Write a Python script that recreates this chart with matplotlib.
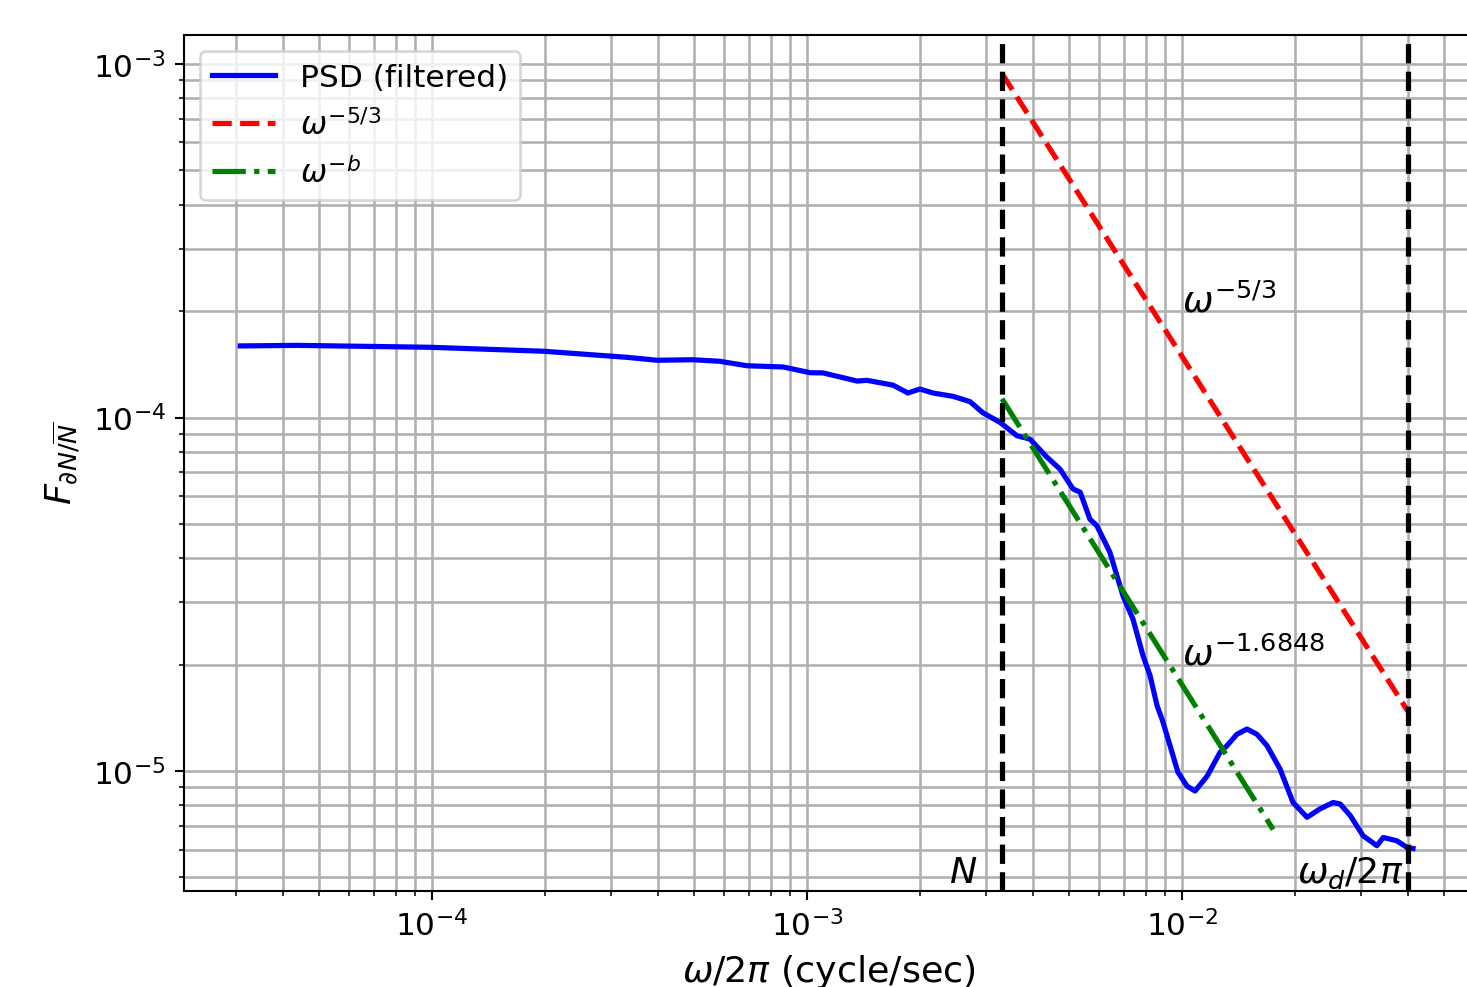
import numpy as np
import matplotlib
matplotlib.use("Agg")
import matplotlib.pyplot as plt

# PSD of dN/N (filtered)
freq = [3.08e-5, 4.36e-5, 9.9e-5, 1.98e-4, 3.31e-4, 3.98e-4, 4.97e-4, 5.86e-4,
        6.92e-4, 8.63e-4, 1.019e-3, 1.104e-3, 1.36e-3, 1.445e-3, 1.695e-3,
        1.858e-3, 2.0e-3, 2.168e-3, 2.45e-3, 2.72e-3, 2.945e-3, 3.27e-3,
        3.63e-3, 3.93e-3, 4.36e-3, 4.73e-3, 5.12e-3, 5.35e-3, 5.68e-3,
        5.93e-3, 6.42e-3, 6.96e-3, 7.40e-3, 7.87e-3, 8.22e-3, 8.58e-3,
        8.85e-3, 9.29e-3, 9.75e-3, 1.031e-2, 1.083e-2, 1.167e-2, 1.263e-2,
        1.318e-2, 1.40e-2, 1.49e-2, 1.585e-2, 1.685e-2, 1.825e-2, 1.977e-2,
        2.155e-2, 2.33e-2, 2.53e-2, 2.64e-2, 2.81e-2, 3.04e-2, 3.31e-2,
        3.44e-2, 3.74e-2, 3.98e-2, 4.13e-2]
psd = [1.594e-4, 1.60e-4, 1.58e-4, 1.54e-4, 1.48e-4, 1.452e-4, 1.457e-4, 1.442e-4,
       1.401e-4, 1.39e-4, 1.339e-4, 1.337e-4, 1.268e-4, 1.274e-4, 1.235e-4,
       1.173e-4, 1.204e-4, 1.173e-4, 1.148e-4, 1.109e-4, 1.031e-4, 9.69e-5,
       8.88e-5, 8.69e-5, 7.73e-5, 7.14e-5, 6.28e-5, 6.15e-5, 5.16e-5,
       4.94e-5, 4.16e-5, 3.13e-5, 2.69e-5, 2.12e-5, 1.86e-5, 1.53e-5,
       1.40e-5, 1.18e-5, 9.93e-6, 9.07e-6, 8.78e-6, 9.68e-6, 1.13e-5,
       1.18e-5, 1.27e-5, 1.315e-5, 1.27e-5, 1.18e-5, 1.014e-5, 8.15e-6,
       7.40e-6, 7.81e-6, 8.15e-6, 8.07e-6, 7.48e-6, 6.56e-6, 6.15e-6,
       6.49e-6, 6.35e-6, 6.08e-6, 6.04e-6]

N_freq = 3.31e-3        # buoyancy frequency N (cycle/sec)
wd_freq = 0.04          # omega_d / 2pi
b_fit = 1.6848
fit_end = 0.0175
amp_53 = 9.4e-4         # -5/3 line value at N
amp_b = 1.13e-4         # fitted line value at N

plt.rcParams["font.size"] = 12
plt.rcParams["grid.linewidth"] = 1.0

fig = plt.figure(figsize=(1467 / 187.5, 988 / 187.5), dpi=187.5)
ax = fig.add_axes([0.1254, 0.0972, 0.8787, 0.8664])

ax.loglog(freq, psd, color="blue", lw=2, label="PSD (filtered)")

f53 = np.array([N_freq, wd_freq])
ax.loglog(f53, amp_53 * (f53 / N_freq) ** (-5 / 3), color="red", ls="--", lw=2,
          label=r"$\omega^{-5/3}$")
fb = np.array([N_freq, fit_end])
ax.loglog(fb, amp_b * (fb / N_freq) ** (-b_fit), color="green", ls="-.", lw=2,
          label=r"$\omega^{-b}$")

ax.axvline(N_freq, color="black", ls="--", lw=2)
ax.axvline(wd_freq, color="black", ls="--", lw=2)

ax.text(0.01, 2e-4, r"$\omega^{-5/3}$", fontsize=14)
ax.text(0.01, 2e-5, r"$\omega^{-%.4f}$" % b_fit, fontsize=14)
ax.text(2.61e-3, 4.85e-6, r"$N$", fontsize=14, ha="center")
ax.text(0.0281, 4.85e-6, r"$\omega_d/2\pi$", fontsize=14, ha="center")

ax.set_xlim(2.18e-5, 0.0597)
ax.set_ylim(4.58e-6, 1.208e-3)
ax.grid(True, which="both")
ax.set_xlabel(r"$\omega/2\pi$ (cycle/sec)", fontsize=14)
ax.set_ylabel(r"$F_{\partial N/\overline{N}}$", fontsize=14)
ax.legend(loc="upper left", fontsize=12)

fig.savefig("out.png", dpi=187.5)
